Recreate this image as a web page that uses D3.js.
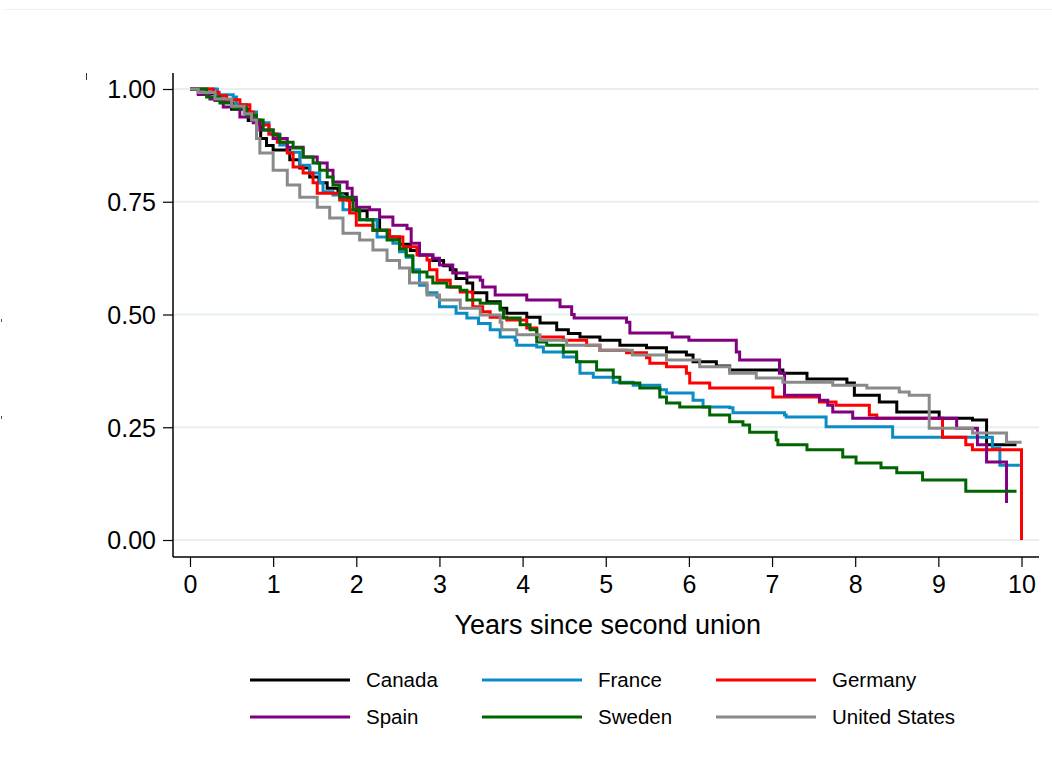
<!DOCTYPE html>
<html>
<head>
<meta charset="utf-8">
<script src="https://cdn.jsdelivr.net/npm/d3@7"></script>
<style>
  body { margin: 0; background: #fff; }
  svg text { font-family: "Liberation Sans", Arial, Helvetica, sans-serif; fill: #000; }
</style>
</head>
<body>
<div id="chart"></div>
<script>
"use strict"

// Kaplan-Meier step points [years, survival]
const canada = [[0,1],[0.1,0.99],[0.3,0.975],[0.5,0.955],[0.7,0.93],[0.85,0.89],[0.92,0.875],[1.0,0.865],[1.2,0.843],[1.32,0.825],[1.44,0.805],[1.55,0.792],[1.65,0.78],[1.78,0.768],[1.89,0.754],[2.0,0.73],[2.13,0.71],[2.28,0.687],[2.4,0.672],[2.52,0.656],[2.65,0.642],[2.76,0.632],[2.92,0.62],[3.05,0.608],[3.13,0.599],[3.2,0.58],[3.33,0.57],[3.4,0.548],[3.57,0.528],[3.73,0.514],[3.81,0.503],[4.05,0.494],[4.21,0.481],[4.41,0.466],[4.55,0.458],[4.69,0.45],[4.93,0.443],[5.17,0.432],[5.49,0.426],[5.73,0.417],[5.97,0.41],[6.05,0.395],[6.33,0.386],[6.49,0.377],[7.13,0.37],[7.42,0.357],[7.9,0.348],[7.99,0.321],[8.29,0.306],[8.5,0.284],[9.01,0.27],[9.41,0.266],[9.58,0.211],[9.94,0.211]];
const france = [[0,1],[0.33,0.987],[0.52,0.982],[0.56,0.965],[0.68,0.949],[0.8,0.925],[0.95,0.9],[1.08,0.876],[1.17,0.86],[1.32,0.831],[1.44,0.814],[1.56,0.792],[1.6,0.772],[1.72,0.765],[1.84,0.732],[2.04,0.71],[2.25,0.672],[2.44,0.658],[2.52,0.639],[2.6,0.627],[2.68,0.599],[2.76,0.565],[2.85,0.548],[2.97,0.539],[3.0,0.517],[3.2,0.503],[3.33,0.492],[3.47,0.48],[3.61,0.466],[3.73,0.45],[3.91,0.443],[3.93,0.432],[4.17,0.428],[4.25,0.417],[4.49,0.406],[4.65,0.395],[4.69,0.37],[4.85,0.361],[5.09,0.35],[5.33,0.343],[5.65,0.333],[5.73,0.326],[6.05,0.31],[6.17,0.295],[6.49,0.293],[6.53,0.282],[7.15,0.277],[7.17,0.273],[7.65,0.251],[8.45,0.228],[9.65,0.204],[9.74,0.166],[9.98,0.166]];
const germany = [[0,1],[0.28,0.993],[0.35,0.985],[0.44,0.976],[0.6,0.965],[0.72,0.949],[0.76,0.931],[0.84,0.92],[0.95,0.9],[1.05,0.882],[1.17,0.858],[1.24,0.827],[1.36,0.814],[1.48,0.792],[1.53,0.769],[1.8,0.754],[1.92,0.725],[2.0,0.698],[2.2,0.687],[2.4,0.672],[2.56,0.65],[2.73,0.632],[2.85,0.621],[2.88,0.599],[2.97,0.576],[3.13,0.561],[3.25,0.55],[3.4,0.517],[3.52,0.506],[3.61,0.494],[3.81,0.488],[4.05,0.47],[4.17,0.45],[4.49,0.443],[4.77,0.432],[4.93,0.421],[5.25,0.415],[5.49,0.404],[5.53,0.392],[5.73,0.384],[5.97,0.37],[6.01,0.348],[6.25,0.337],[7.01,0.317],[7.57,0.306],[7.77,0.299],[8.17,0.277],[8.26,0.27],[9.05,0.228],[9.33,0.211],[9.41,0.2],[10.0,0.0]];
const spain = [[0,1],[0.1,0.988],[0.24,0.978],[0.4,0.96],[0.6,0.938],[0.76,0.925],[0.84,0.909],[1.0,0.89],[1.17,0.871],[1.36,0.849],[1.53,0.836],[1.65,0.82],[1.72,0.794],[1.89,0.78],[1.95,0.76],[2.0,0.738],[2.16,0.732],[2.28,0.716],[2.44,0.698],[2.61,0.69],[2.66,0.658],[2.76,0.632],[2.92,0.625],[3.0,0.61],[3.16,0.592],[3.33,0.583],[3.49,0.576],[3.52,0.561],[3.67,0.543],[4.05,0.532],[4.45,0.517],[4.59,0.5],[4.62,0.492],[5.25,0.483],[5.29,0.459],[5.8,0.45],[6.0,0.443],[6.57,0.417],[6.61,0.399],[7.09,0.37],[7.15,0.321],[7.57,0.31],[7.67,0.299],[7.73,0.284],[7.97,0.27],[9.22,0.248],[9.47,0.211],[9.58,0.173],[9.82,0.082]];
const sweden = [[0,1],[0.2,0.982],[0.36,0.969],[0.52,0.958],[0.68,0.942],[0.8,0.931],[0.88,0.909],[1.0,0.898],[1.08,0.882],[1.24,0.869],[1.36,0.849],[1.48,0.836],[1.56,0.82],[1.65,0.805],[1.72,0.787],[1.8,0.76],[1.96,0.732],[2.04,0.71],[2.2,0.687],[2.37,0.665],[2.52,0.645],[2.6,0.63],[2.68,0.594],[2.85,0.583],[2.92,0.57],[3.09,0.561],[3.25,0.554],[3.33,0.532],[3.49,0.525],[3.73,0.51],[3.77,0.492],[3.97,0.477],[4.09,0.466],[4.17,0.439],[4.29,0.432],[4.49,0.417],[4.65,0.395],[4.89,0.377],[5.09,0.361],[5.17,0.348],[5.41,0.337],[5.65,0.317],[5.73,0.304],[5.89,0.295],[6.25,0.277],[6.49,0.262],[6.65,0.255],[6.73,0.239],[7.05,0.222],[7.07,0.211],[7.42,0.2],[7.85,0.184],[8.01,0.171],[8.31,0.16],[8.5,0.149],[8.81,0.133],[9.33,0.108],[9.94,0.108]];
const unitedStates = [[0,1],[0.1,0.992],[0.3,0.978],[0.5,0.962],[0.65,0.945],[0.74,0.931],[0.8,0.89],[0.84,0.858],[1.0,0.82],[1.17,0.787],[1.32,0.76],[1.53,0.738],[1.68,0.714],[1.84,0.68],[2.04,0.665],[2.2,0.643],[2.37,0.62],[2.52,0.603],[2.64,0.57],[2.85,0.543],[3.0,0.532],[3.25,0.514],[3.49,0.499],[3.73,0.483],[3.75,0.466],[3.93,0.455],[4.21,0.443],[4.53,0.432],[4.93,0.421],[5.32,0.41],[5.73,0.399],[6.13,0.384],[6.49,0.37],[6.81,0.359],[7.13,0.35],[7.73,0.343],[8.14,0.337],[8.53,0.328],[8.65,0.321],[8.89,0.248],[9.41,0.237],[9.82,0.217],[10.0,0.217]];

const seriesNames = ["Canada", "France", "Germany", "Spain", "Sweden", "United States"];
const seriesData = [canada, france, germany, spain, sweden, unitedStates];
const seriesColors = ["#000000", "#0b8cc4", "#ff0000", "#800080", "#006400", "#8a8a8a"];

const yTicks = [0, 0.25, 0.5, 0.75, 1];
const xTicks = [0, 1, 2, 3, 4, 5, 6, 7, 8, 9, 10];
const xTitle = "Years since second union";

const figWidth = 1052;
const figHeight = 771;

// plot region edges (axis lines)
const frame = {left: 173, right: 1039, top: 73, bottom: 557};

const svg = d3.select("#chart").append("svg")
  .attr("width", figWidth)
  .attr("height", figHeight);

const x = d3.scaleLinear().domain([0, 10]).range([190, 1021.5]);
const y = d3.scaleLinear().domain([0, 1]).range([540, 89]);

// faint outer border at top of the image
svg.append("line")
  .attr("x1", 5).attr("x2", figWidth)
  .attr("y1", 9.5).attr("y2", 9.5)
  .attr("stroke", "#f0f0f0").attr("stroke-width", 1);

// stray marks left of the plot
svg.append("line").attr("x1", 86.5).attr("x2", 86.5).attr("y1", 73).attr("y2", 80)
  .attr("stroke", "#333").attr("stroke-width", 1);
svg.append("line").attr("x1", 1.5).attr("x2", 1.5).attr("y1", 319).attr("y2", 322)
  .attr("stroke", "#555").attr("stroke-width", 1);
svg.append("line").attr("x1", 1.5).attr("x2", 1.5).attr("y1", 416).attr("y2", 419)
  .attr("stroke", "#555").attr("stroke-width", 1);

// gridlines
svg.append("g")
  .selectAll("line")
  .data(yTicks)
  .enter().append("line")
    .attr("x1", frame.left).attr("x2", frame.right)
    .attr("y1", d => y(d)).attr("y2", d => y(d))
    .attr("stroke", "#e6eff1")
    .attr("stroke-width", 2);

// y axis
const yAxis = d3.axisLeft(y)
  .tickValues(yTicks)
  .tickFormat(d3.format(".2f"))
  .tickSize(10)
  .tickPadding(7);

const yAxisG = svg.append("g")
  .attr("transform", `translate(${frame.left},0)`)
  .call(yAxis);
yAxisG.select(".domain").remove();
yAxisG.selectAll("text").style("font-size", "25px").attr("dy", "0.35em");
yAxisG.selectAll("line").attr("stroke", "#000").attr("stroke-width", 1.2);

svg.append("line")
  .attr("x1", frame.left).attr("x2", frame.left)
  .attr("y1", frame.top).attr("y2", frame.bottom)
  .attr("stroke", "#000").attr("stroke-width", 1.5);

// x axis
const xAxis = d3.axisBottom(x)
  .tickValues(xTicks)
  .tickFormat(d3.format("d"))
  .tickSize(10)
  .tickPadding(8);

const xAxisG = svg.append("g")
  .attr("transform", `translate(0,${frame.bottom})`)
  .call(xAxis);
xAxisG.select(".domain").remove();
xAxisG.selectAll("text").style("font-size", "25px");
xAxisG.selectAll("line").attr("stroke", "#000").attr("stroke-width", 1.2);

svg.append("line")
  .attr("x1", frame.left).attr("x2", frame.right)
  .attr("y1", frame.bottom).attr("y2", frame.bottom)
  .attr("stroke", "#000").attr("stroke-width", 1.5);

// x title
svg.append("text")
  .attr("x", (x(0) + x(10)) / 2 + 2)
  .attr("y", 634)
  .attr("text-anchor", "middle")
  .style("font-size", "27px")
  .text(xTitle);

// survival curves
const line = d3.line()
  .x(d => x(d[0]))
  .y(d => y(d[1]))
  .curve(d3.curveStepAfter);

svg.append("g")
  .selectAll("path")
  .data(seriesData)
  .enter().append("path")
    .attr("d", d => line(d))
    .attr("fill", "none")
    .attr("stroke", (d, i) => seriesColors[i])
    .attr("stroke-width", 3);

// legend: 2 rows x 3 columns
const legendCols = [250, 482, 716];
const legendRows = [680, 717];

const legend = svg.append("g")
  .selectAll("g")
  .data(seriesNames)
  .enter().append("g")
    .attr("transform", (d, i) => `translate(${legendCols[i % 3]},${legendRows[Math.floor(i / 3)]})`);

legend.append("line")
  .attr("x1", 0).attr("x2", 100)
  .attr("stroke", (d, i) => seriesColors[i])
  .attr("stroke-width", 3);

legend.append("text")
  .attr("x", 116)
  .attr("dy", "0.35em")
  .style("font-size", "20.5px")
  .text(d => d);
</script>
</body>
</html>
